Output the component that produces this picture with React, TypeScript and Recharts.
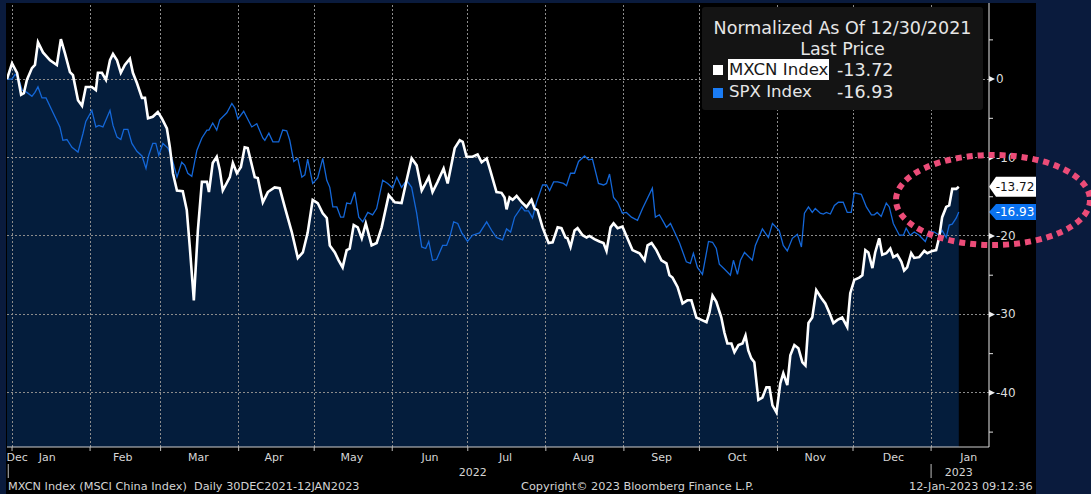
import {
  ComposedChart,
  Area,
  Line,
  XAxis,
  YAxis,
  ReferenceLine,
} from 'recharts'

// days since 30 Dec 2021, values normalized to 0 on that day
const mxcnDays = [
  0, 2.0, 4.0, 5.6, 6.7, 7.9, 9.9, 11.1, 12.3, 14.3,
  17.1, 19.8, 21.4, 23.0, 25.0, 26.2, 28.2, 29.8, 31.3, 33.7,
  35.3, 36.1, 37.7, 39.3, 40.9, 42.1, 43.7, 45.2, 46.8, 48.8,
  50.0, 51.6, 53.6, 54.8, 56.0, 57.9, 59.9, 61.5, 63.5, 64.7,
  65.9, 67.5, 69.8, 71.4, 72.6, 74.2, 75.8, 77.4, 79.4, 80.2,
  81.7, 83.3, 84.5, 85.7, 88.5, 89.7, 91.3, 92.9, 94.4, 95.6,
  98.4, 99.6, 101.6, 103.6, 106.3, 108.3, 110.3, 113.1, 115.5, 117.5,
  119.4, 121.4, 123.4, 125.4, 127.0, 128.2, 130.2, 131.7, 133.3, 134.9,
  136.1, 137.7, 139.3, 140.9, 142.5, 144.8, 146.8, 148.8, 151.6, 154.0,
  156.7, 158.7, 160.7, 162.7, 164.7, 165.9, 167.5, 169.0, 171.0, 173.4,
  175.0, 177.8, 179.8, 181.0, 182.5, 184.9, 186.9, 188.5, 190.5, 191.9,
  194.4, 196.4, 197.6, 198.4, 199.6, 200.8, 202.4, 204.4, 206.3, 208.3,
  209.5, 210.7, 212.7, 215.1, 216.7, 218.7, 220.2, 221.8, 222.6, 223.8,
  225.4, 226.6, 228.6, 230.2, 231.3, 233.3, 235.3, 236.9, 238.1, 239.7,
  240.9, 242.5, 244.4, 246.4, 248.4, 251.2, 253.2, 254.4, 256.0, 257.9,
  259.9, 261.9, 263.1, 264.3, 266.3, 268.3, 270.2, 271.8, 273.8, 275.8,
  277.8, 279.0, 280.2, 281.7, 283.7, 284.9, 286.1, 287.7, 288.9, 290.5,
  292.1, 293.3, 294.4, 295.6, 296.8, 298.4, 300.0, 301.6, 302.8, 304.0,
  305.6, 307.1, 308.3, 309.9, 311.1, 312.7, 314.3, 315.9, 317.1, 318.3,
  319.8, 321.4, 323.4, 325.0, 326.6, 328.2, 329.8, 331.7, 333.7, 334.9,
  336.5, 338.5, 339.7, 340.9, 342.1, 343.7, 344.8, 346.4, 347.6, 349.2,
  350.8, 352.0, 353.6, 355.2, 356.3, 357.5, 359.1, 360.3, 362.3, 364.3,
  365.5, 367.5, 369.0, 370.2, 371.4, 373.0, 374.2, 375.4, 377.0, 378,
]
const mxcnValues = [
  0, 2.0, 0.8, -2.0, -1.8, -0.1, 1.4, 1.8, 4.7, 3.4,
  2.4, 1.8, 5.1, 3.3, 0.9, 0.5, -2.7, -3.4, -1.0, -1.0,
  -1.4, 0.8, 0.8, -0.1, 2.4, 3.2, 2.4, 0.8, 1.8, 2.6,
  0.8, -0.5, -2.4, -2.4, -5.0, -4.8, -4.2, -5.0, -6.3, -8.7,
  -12.0, -14.2, -14.3, -16.7, -21.4, -28.2, -19.3, -13.1, -13.1, -14.4,
  -10.7, -9.9, -11.6, -14.2, -12.5, -10.7, -12.0, -11.2, -8.7, -8.8,
  -12.5, -12.6, -15.7, -14.4, -13.8, -13.9, -16.3, -19.5, -22.8, -22.1,
  -19.6, -15.4, -15.8, -17.1, -17.7, -21.2, -22.1, -23.1, -24.0, -21.8,
  -21.6, -18.6, -18.9, -20.3, -18.4, -21.2, -20.9, -18.9, -14.8, -15.7,
  -15.8, -12.9, -10.1, -11.0, -14.2, -13.5, -12.5, -14.4, -13.1, -11.4,
  -13.3, -8.8, -7.8, -8.0, -9.9, -9.9, -9.6, -10.6, -10.1, -11.6,
  -14.4, -14.5, -15.1, -16.6, -15.1, -15.4, -14.9, -15.7, -16.3, -15.4,
  -16.5, -16.7, -18.9, -20.9, -20.8, -18.9, -19.0, -20.2, -20.3, -21.4,
  -19.3, -19.0, -19.9, -20.2, -20.0, -20.4, -20.7, -20.9, -21.9, -18.9,
  -18.4, -19.0, -18.8, -20.3, -21.8, -22.2, -23.1, -21.2, -20.9, -21.8,
  -23.1, -23.5, -25.0, -25.3, -26.5, -28.6, -28.2, -28.2, -30.4, -30.7,
  -31.0, -29.7, -27.6, -28.4, -30.4, -32.3, -33.7, -33.7, -34.8, -33.9,
  -33.7, -32.7, -34.6, -35.6, -36.1, -40.9, -40.6, -39.3, -39.3, -41.6,
  -42.5, -38.8, -37.5, -39.0, -35.2, -33.9, -34.3, -36.1, -36.5, -31.1,
  -30.4, -26.9, -27.9, -28.6, -29.8, -31.1, -30.7, -30.4, -31.6, -27.3,
  -25.6, -25.3, -25.0, -21.8, -22.1, -24.1, -22.1, -20.3, -22.4, -22.2,
  -21.6, -22.7, -22.4, -23.3, -24.4, -24.0, -22.2, -22.8, -22.7, -21.9,
  -22.2, -21.9, -21.8, -20.2, -17.6, -16.3, -16.1, -14.0, -14.0, -13.72,
]

const spxDays = [
  0, 2.0, 3.2, 4.4, 6.0, 7.9, 9.9, 11.1, 12.3, 13.9,
  15.5, 18.3, 21.0, 22.2, 23.8, 25.8, 28.2, 30.2, 31.3, 33.7,
  35.3, 36.5, 38.1, 40.9, 42.1, 43.7, 45.2, 46.4, 48.0, 49.6,
  51.6, 53.6, 55.2, 56.3, 57.9, 59.1, 60.3, 61.9, 63.9, 65.5,
  67.5, 69.4, 70.6, 71.8, 73.4, 75.4, 77.4, 79.4, 80.2, 81.7,
  83.3, 84.5, 87.3, 89.3, 90.5, 91.7, 94.0, 97.2, 99.2, 101.6,
  102.4, 104.0, 105.6, 107.9, 109.5, 111.1, 112.3, 113.9, 115.5, 117.1,
  118.3, 119.4, 121.4, 123.4, 125.4, 127.0, 128.2, 129.4, 131.0, 132.5,
  133.7, 134.9, 136.5, 138.1, 139.7, 141.3, 143.3, 145.2, 146.8, 149.2,
  151.2, 153.2, 154.8, 156.7, 158.7, 160.7, 162.7, 164.7, 166.3, 167.5,
  169.0, 170.6, 173.0, 174.6, 175.8, 177.4, 179.0, 180.6, 182.9, 184.9,
  187.7, 190.5, 192.5, 194.4, 196.8, 198.4, 200.0, 201.6, 204.4, 205.6,
  207.1, 208.7, 210.3, 212.7, 214.3, 215.5, 217.1, 218.7, 221.0, 222.2,
  223.8, 225.4, 227.0, 229.4, 231.0, 232.5, 234.9, 236.9, 238.1, 239.3,
  240.9, 242.5, 244.4, 246.0, 248.0, 250.4, 252.4, 256.3, 257.5, 259.1,
  260.7, 261.9, 263.5, 265.1, 267.1, 269.8, 271.4, 272.6, 274.2, 276.2,
  278.6, 280.2, 281.7, 282.9, 284.9, 287.3, 288.5, 290.1, 291.3, 292.9,
  296.0, 297.2, 300.0, 302.4, 304.0, 306.7, 308.3, 309.9, 311.9, 313.9,
  315.5, 316.7, 318.3, 319.8, 321.0, 323.0, 324.2, 325.4, 327.0, 328.6,
  330.2, 332.1, 333.7, 335.3, 336.5, 339.3, 341.3, 343.3, 344.4, 345.6,
  347.2, 349.2, 350.4, 352.0, 354.4, 356.0, 357.1, 358.7, 360.3, 362.3,
  364.7, 366.3, 368.3, 370.2, 371.4, 373.0, 374.2, 375.4, 377.0, 378,
]
const spxValues = [
  0, 0, 0.6, 0.3, -1.4, -1.7, -2.2, -1.7, -1.0, -2.4,
  -2.4, -4.3, -6.1, -7.8, -7.7, -8.7, -9.3, -6.9, -5.4, -4.0,
  -6.1, -5.9, -6.1, -4.0, -5.9, -7.4, -7.7, -6.4, -6.4, -8.2,
  -9.2, -9.8, -11.4, -9.7, -8.2, -8.2, -9.7, -8.2, -8.8, -10.1,
  -12.5, -10.6, -11.0, -12.0, -12.4, -9.1, -7.5, -6.5, -6.5, -5.6,
  -6.5, -5.2, -4.3, -3.1, -3.7, -5.1, -4.1, -6.1, -5.7, -7.5,
  -7.8, -6.9, -8.0, -8.0, -6.5, -6.6, -7.8, -10.5, -10.1, -12.5,
  -12.2, -10.2, -13.3, -12.6, -10.1, -12.9, -13.8, -16.3, -16.3, -17.6,
  -17.6, -15.8, -15.9, -14.4, -17.6, -18.2, -17.0, -17.3, -16.5, -12.9,
  -13.3, -13.9, -12.5, -13.8, -12.9, -13.8, -17.1, -21.4, -21.6, -20.7,
  -23.1, -23.0, -21.2, -21.2, -20.2, -18.2, -18.4, -19.6, -20.7, -19.9,
  -19.6, -18.2, -19.3, -20.2, -20.5, -19.1, -19.5, -17.6, -16.3, -16.8,
  -16.8, -17.7, -15.7, -13.5, -13.5, -14.2, -13.1, -13.1, -13.3, -13.6,
  -12.0, -12.0, -10.5, -9.8, -10.3, -10.2, -13.3, -13.5, -13.3, -12.1,
  -15.1, -15.7, -17.1, -17.0, -17.6, -18.0, -16.5, -13.9, -17.6, -17.3,
  -18.2, -18.9, -18.4, -19.5, -20.9, -23.3, -23.5, -22.2, -24.0, -24.9,
  -20.7, -20.8, -21.6, -23.6, -24.2, -25.0, -23.1, -24.9, -23.1, -22.1,
  -23.1, -21.2, -19.1, -20.2, -18.4, -19.3, -21.2, -21.9, -20.3, -19.8,
  -21.4, -17.1, -16.3, -17.0, -16.5, -17.1, -17.2, -17.0, -17.2, -16.1,
  -15.7, -15.7, -17.0, -17.0, -14.5, -14.7, -16.3, -17.3, -17.3, -17.0,
  -17.5, -15.8, -16.3, -18.4, -19.9, -19.9, -19.0, -19.9, -19.5, -19.9,
  -20.7, -19.4, -19.5, -19.9, -19.3, -20.2, -18.6, -18.5, -17.7, -16.93,
]

const monthStartDays = [2, 33, 61, 92, 122, 153, 183, 214, 245, 275, 306, 336, 367]
const monthLabelDays = [4, 16, 46, 76, 106, 137, 168, 198, 229, 260, 290, 321, 352, 382]
const monthLabels = ['Dec', 'Jan', 'Feb', 'Mar', 'Apr', 'May', 'Jun', 'Jul', 'Aug', 'Sep', 'Oct', 'Nov', 'Dec', 'Jan']
const yearLabelDays = [185, 378]
const yearLabels = ['2022', '2023']
const yearMarkDays = [0.5, 367]
const yTicks = [5, 0, -5, -10, -15, -20, -25, -30, -35, -40, -45]
const yMajor = [0, -10, -20, -30, -40]

const mxcnData = mxcnDays.map((d, i) => ({ d, v: mxcnValues[i] }))
const spxData = spxDays.map((d, i) => ({ d, v: spxValues[i] }))
const mxcnLast = mxcnValues[mxcnValues.length - 1]
const spxLast = spxValues[spxValues.length - 1]

const xTicks = Array.from(
  new Set([...monthStartDays, ...monthLabelDays, ...yearLabelDays, ...yearMarkDays])
).sort((a, b) => a - b)

const NAVY = '#0a1b3d'
const FILL = '#041d3c'
const BLUE = '#1467d8'
const GRID = '#8c8c8c'
const FONT = '"DejaVu Sans", Verdana, sans-serif'
const fmt = (n: number) => n.toFixed(2)

function XTick(props: any) {
  const { x, y, payload } = props
  const v = payload.value
  const out: any[] = []
  if (monthStartDays.includes(v))
    out.push(<line key="t" x1={x} x2={x} y1={y} y2={y + 4} stroke="#bdbdbd" />)
  if (yearMarkDays.includes(v))
    out.push(<line key="s" x1={x} x2={x} y1={y + 17} y2={y + 31} stroke="#bdbdbd" />)
  const mi = monthLabelDays.indexOf(v)
  if (mi >= 0)
    out.push(
      <text key="m" x={x} y={y + 10} textAnchor="middle" dominantBaseline="central"
        fill="#d6d6d6" fontSize={11} fontFamily={FONT}>{monthLabels[mi]}</text>
    )
  const yi = yearLabelDays.indexOf(v)
  if (yi >= 0)
    out.push(
      <text key="y" x={x} y={y + 25} textAnchor="middle" dominantBaseline="central"
        fill="#d6d6d6" fontSize={11} fontFamily={FONT}>{yearLabels[yi]}</text>
    )
  return <g>{out}</g>
}

function YTick(props: any) {
  const { x, y, payload } = props
  const v = payload.value
  if (!yMajor.includes(v)) return <line x1={x} x2={x + 4} y1={y} y2={y} stroke="#e0e0e0" />
  return (
    <g>
      <polygon points={`${x},${y - 3} ${x + 6},${y} ${x},${y + 3}`} fill="#eeeeee" />
      <text x={x + 7} y={y} dominantBaseline="central" fill="#dcdcdc" fontSize={12} fontFamily={FONT}>
        {v}
      </text>
    </g>
  )
}

const priceTag = (text: string, bg: string, fg: string, h: number) => (props: any) => {
  const { viewBox } = props
  const x0 = viewBox.x + viewBox.width
  const y = viewBox.y
  const w = 47
  return (
    <g>
      <polygon
        points={`${x0},${y} ${x0 + 7},${y - h / 2} ${x0 + w},${y - h / 2} ${x0 + w},${y + h / 2} ${x0 + 7},${y + h / 2}`}
        fill={bg}
      />
      <text x={x0 + 26} y={y} textAnchor="middle" dominantBaseline="central" fill={fg} fontSize={12} fontFamily={FONT}>
        {text}
      </text>
    </g>
  )
}

export default function App() {
  const txt = { position: 'absolute' as const, color: '#e6e6e6', fontFamily: FONT, whiteSpace: 'nowrap' as const }
  return (
    <div style={{ position: 'relative', width: 1091, height: 494, background: NAVY, overflow: 'hidden' }}>
      <style>{`body{margin:0;background:${NAVY}}`}</style>
      <div style={{ position: 'absolute', left: 6, top: 3, width: 1030, height: 491, background: '#000' }}>
        <ComposedChart width={1030} height={491} margin={{ top: 0, right: 0, bottom: 0, left: 1 }}>
          <XAxis
            type="number"
            dataKey="d"
            domain={[0, 390]}
            allowDataOverflow
            ticks={xTicks}
            interval={0}
            height={47}
            tickSize={0}
            tickMargin={0}
            tickLine={false}
            axisLine={{ stroke: '#cfcfcf' }}
            tick={<XTick />}
          />
          <YAxis
            orientation="right"
            type="number"
            domain={[-46.9, 9.7]}
            allowDataOverflow
            ticks={yTicks}
            interval={0}
            width={47}
            tickSize={0}
            tickMargin={0}
            tickLine={false}
            axisLine={{ stroke: '#e6e6e6' }}
            tick={<YTick />}
          />
          <Area
            data={mxcnData}
            dataKey="v"
            type="linear"
            stroke="none"
            fill={FILL}
            fillOpacity={1}
            baseValue="dataMin"
            isAnimationActive={false}
          />
          {monthStartDays.map((d) => (
            <ReferenceLine key={`gx${d}`} x={d} stroke={GRID} strokeWidth={1} strokeDasharray="2 2" shapeRendering="crispEdges" />
          ))}
          {yMajor.map((v) => (
            <ReferenceLine key={`gy${v}`} y={v} stroke={GRID} strokeWidth={1} strokeDasharray="2 2" shapeRendering="crispEdges" />
          ))}
          <Line data={spxData} dataKey="v" type="linear" stroke={BLUE} strokeWidth={1.3} dot={false} isAnimationActive={false} />
          <Line data={mxcnData} dataKey="v" type="linear" stroke="#ffffff" strokeWidth={2.6} dot={false} isAnimationActive={false} />
          <ReferenceLine y={mxcnLast} stroke="none" label={priceTag(fmt(mxcnLast), '#ffffff', '#111111', 20)} />
          <ReferenceLine y={spxLast} stroke="none" label={priceTag(fmt(spxLast), '#0a72f0', '#ffffff', 16)} />
        </ComposedChart>
      </div>

      {/* legend box */}
      <div style={{ position: 'absolute', left: 702, top: 7, width: 281, height: 103, background: '#141414', borderRadius: 3 }}>
        <div style={{ ...txt, left: 0, width: 281, top: 11, lineHeight: '20px', fontSize: 17.5, textAlign: 'center' }}>
          Normalized As Of 12/30/2021
        </div>
        <div style={{ ...txt, left: 0, width: 281, top: 32, lineHeight: '20px', fontSize: 17.5, textAlign: 'center' }}>
          Last Price
        </div>
        <div style={{ position: 'absolute', left: 11, top: 58, width: 10, height: 10, background: '#ffffff' }} />
        <div style={{ ...txt, left: 26, top: 52, lineHeight: '21px', fontSize: 16.6, background: '#ffffff', color: '#1a1a1a', padding: '0 1px' }}>
          MXCN Index
        </div>
        <div style={{ ...txt, left: 135, top: 53, lineHeight: '20px', fontSize: 17.5 }}>{fmt(mxcnLast)}</div>
        <div style={{ position: 'absolute', left: 11, top: 81, width: 10, height: 10, background: '#1a7cf5' }} />
        <div style={{ ...txt, left: 27, top: 75, lineHeight: '20px', fontSize: 16.6 }}>SPX Index</div>
        <div style={{ ...txt, left: 135, top: 75, lineHeight: '20px', fontSize: 17.5 }}>{fmt(spxLast)}</div>
      </div>

      {/* footer */}
      <div style={{ ...txt, color: '#d4d4d4', left: 8, top: 480, fontSize: 11.3, lineHeight: '14px' }}>
        MXCN Index (MSCI China Index)&nbsp;&nbsp;Daily 30DEC2021-12JAN2023
      </div>
      <div style={{ ...txt, color: '#d4d4d4', left: 521, top: 480, fontSize: 11.3, lineHeight: '14px' }}>
        Copyright© 2023 Bloomberg Finance L.P.
      </div>
      <div style={{ ...txt, color: '#d4d4d4', left: 909, top: 480, fontSize: 11.3, lineHeight: '14px' }}>
        12-Jan-2023 09:12:36
      </div>

      {/* highlight annotation */}
      <svg width={1091} height={494} style={{ position: 'absolute', left: 0, top: 0, pointerEvents: 'none' }}>
        <ellipse cx={993} cy={200} rx={97} ry={45} fill="none" stroke="#ec4c78" strokeWidth={6} strokeDasharray="6 5" />
      </svg>
    </div>
  )
}
